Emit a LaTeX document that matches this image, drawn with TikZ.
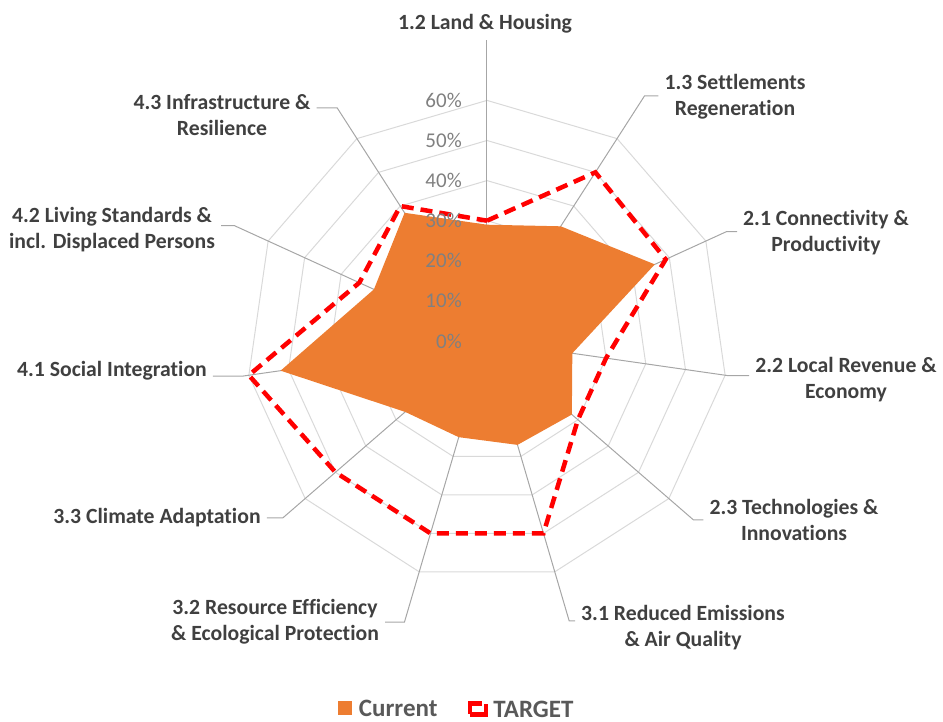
\documentclass[tikz,border=0pt]{standalone}
\usepackage{fontspec}
\setmainfont{Carlito}[Ligatures=NoCommon]
\usetikzlibrary{calc}
\definecolor{gridgray}{HTML}{D9D9D9}
\definecolor{axisgray}{HTML}{A6A6A6}
\definecolor{curorange}{HTML}{ED7D31}
\definecolor{labelgray}{HTML}{404040}
\definecolor{tickgray}{HTML}{808080}
\definecolor{legendgray}{HTML}{595959}

\begin{document}
\begin{tikzpicture}[x=1pt,y=1pt,
    ring/.style={draw=gridgray,line width=1pt},
    spoke/.style={draw=axisgray,line width=1pt},
    target line/.style={draw=red,line width=4.5pt,dash pattern=on 12pt off 7pt},
    cat label/.style={font=\fontsize{21.7}{26}\selectfont\bfseries,text=labelgray,align=center,inner xsep=6pt},
    tick label/.style={font=\fontsize{21}{21}\selectfont,text=tickgray,anchor=east,inner sep=0pt},
    legend text/.style={font=\fontsize{25}{25}\selectfont\bfseries,text=legendgray,anchor=west,inner sep=0pt}]

        \useasboundingbox (-487,-381) rectangle (456,341);
        \coordinate (O) at (0,0);

        % Define grid rings
        \foreach \k in {1,...,6}
            \draw[ring] (90:40.1*\k) \foreach \i in {1,...,10} { -- ({90-\i*360/11}:40.1*\k) } -- cycle;

        % Define axis ends
        \foreach \i/\r in {0/301,1/291.5,2/263,3/242.5,4/273,5/291.6,6/293,7/270,8/246,9/277.6,10/277}
            \coordinate (e\i) at ({90-\i*360/11}:\r);

        % Define labels
        \node[cat label] (l0) at (-2,317) {1.2 Land \& Housing};
        \node[cat label] (l1) at (248,244) {1.3 Settlements\\Regeneration};
        \node[cat label] (l2) at (339,108) {2.1 Connectivity \&\\Productivity};
        \node[cat label] (l3) at (359,-39) {2.2 Local Revenue \&\\Economy};
        \node[cat label] (l4) at (307,-179) {2.3 Technologies \&\\Innovations};
        \node[cat label] (l5) at (196,-287) {3.1 Reduced Emissions\\\& Air Quality};
        \node[cat label] (l6) at (-212,-281) {3.2 Resource Efficiency\\\& Ecological Protection};
        \node[cat label] (l7) at (-330,-177) {3.3 Climate Adaptation};
        \node[cat label] (l8) at (-375,-30) {4.1 Social Integration};
        \node[cat label] (l9) at (-375,111) {4.2 Living Standards \&\\incl. Displaced Persons};
        \node[cat label] (l10) at (-265,226) {4.3 Infrastructure \&\\Resilience};

        % Draw axes
        \draw[spoke] (O) -- (e0);
        \foreach \i in {1,...,5}
            \draw[spoke] (O) -- (e\i) -- (e\i -| l\i.west);
        \foreach \i in {6,...,10}
            \draw[spoke] (O) -- (e\i) -- (e\i -| l\i.east);

        % Draw series
        \fill[curorange] (90:4.01*29) \foreach \v [count=\i] in {34,46,21.5,28,27,25,27,52,31,38}
            { -- ({90-\i*360/11}:4.01*\v) } -- cycle;
        \draw[target line] (90:4.01*30) \foreach \v [count=\i] in {50,49,30,30,50,50,50,60,35,40}
            { -- ({90-\i*360/11}:4.01*\v) } -- cycle;

        % Tick labels
        \foreach \k/\t in {0/0,1/10,2/20,3/30,4/40,5/50,6/60}
            \node[tick label] (t\k) at (-25,40.1*\k) {\t\%};

        % Legend
        \node[fill=curorange,minimum size=14pt,inner sep=0pt] (leg cur) at (-141.5,-367.5) {};
        \node[legend text] (leg cur text) at ([xshift=6pt]leg cur.east) {Current};
        \node[draw=red,line width=4.5pt,dash pattern=on 26pt off 5pt,minimum width=16pt,minimum height=11pt,inner sep=0pt] (leg tgt) at (-9,-368) {};
        \node[legend text] (leg tgt text) at ([xshift=5pt]leg tgt.east) {TARGET};

        \end{tikzpicture}
\end{document}
